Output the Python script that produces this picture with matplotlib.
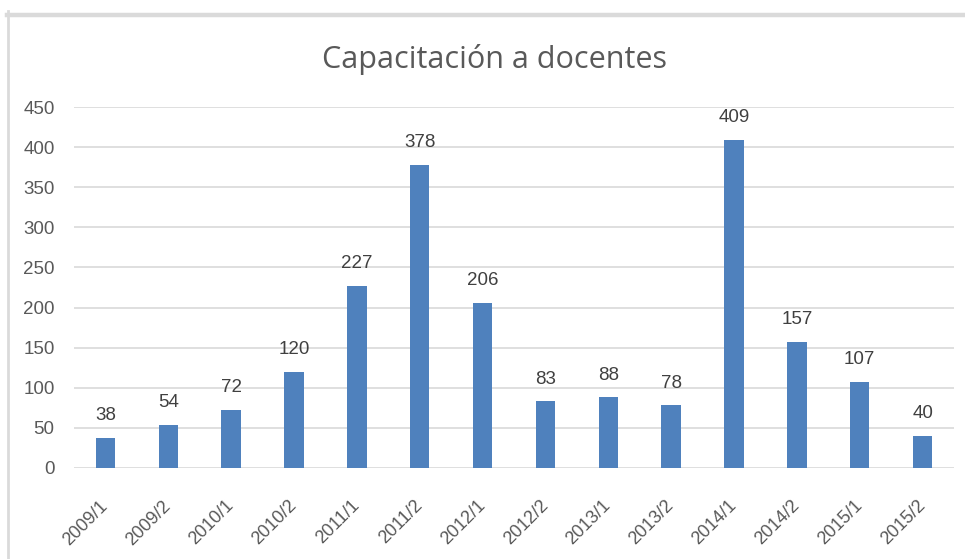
import matplotlib.pyplot as plt
from matplotlib.lines import Line2D
from matplotlib.transforms import ScaledTranslation

semestres = ["2009/1", "2009/2", "2010/1", "2010/2", "2011/1", "2011/2", "2012/1",
             "2012/2", "2013/1", "2013/2", "2014/1", "2014/2", "2015/1", "2015/2"]
docentes = [38, 54, 72, 120, 227, 378, 206, 83, 88, 78, 409, 157, 107, 40]
y_ticks = [0, 50, 100, 150, 200, 250, 300, 350, 400, 450]

W, H = 965, 559
fig = plt.figure(figsize=(W / 100, H / 100), dpi=100)
fig.patch.set_facecolor("white")

# plot area in pixel coordinates
left, right, top, bottom = 74, 954, 107, 468
ax = fig.add_axes([left / W, 1 - bottom / H, (right - left) / W, (bottom - top) / H])

x = range(len(semestres))
ax.bar(x, docentes, width=0.31, color="#4f81bd", zorder=3)

for xi, v in zip(x, docentes):
    ax.annotate(str(v), (xi, v), xytext=(0, 10), textcoords="offset points",
                ha="center", va="bottom", fontsize=13.5, color="#404040",
                family="Liberation Sans")

ax.set_xlim(-0.5, len(semestres) - 0.5)
ax.set_ylim(0, 450)
ax.set_yticks(y_ticks)
ax.set_yticklabels([str(t) for t in y_ticks], fontsize=13.5, color="#595959",
                   family="Liberation Sans")
ax.set_xticks(list(x))
ax.set_xticklabels(semestres, rotation=45, ha="right", va="top",
                   rotation_mode="anchor", fontsize=13, color="#595959",
                   family="Liberation Sans")
ax.tick_params(axis="both", length=0)
ax.tick_params(axis="y", pad=14)
ax.tick_params(axis="x", pad=21)
shift = ScaledTranslation(-6 / 100, 0, fig.dpi_scale_trans)
for lbl in ax.get_xticklabels():
    lbl.set_transform(lbl.get_transform() + shift)

ax.grid(axis="y", color="#d9d9d9", linewidth=1.2, zorder=0)
for s in ax.spines.values():
    s.set_visible(False)

fig.text(494 / W, 1 - 68 / H, "Capacitación a docentes", ha="center", va="baseline",
         fontsize=22, color="#595959", family="Open Sans")

# chart frame edges
fig.add_artist(Line2D([7 / W, 1], [1 - 14.5 / H, 1 - 14.5 / H], color="#dadada",
                      linewidth=3.2, transform=fig.transFigure))
fig.add_artist(Line2D([8 / W, 8 / W], [0, 1 - 11 / H], color="#dadada",
                      linewidth=2.0, transform=fig.transFigure))

fig.savefig("out.png", dpi=100, facecolor="white")
